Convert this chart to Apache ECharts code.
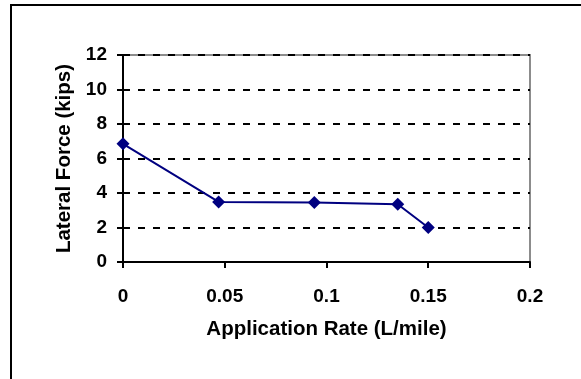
<!DOCTYPE html>
<html>
<head>
<meta charset="utf-8">
<script src="https://cdn.jsdelivr.net/npm/echarts@6/dist/echarts.min.js"></script>
<style>
  html, body { margin: 0; padding: 0; background: #fff; }
  #chart { width: 581px; height: 379px; }
</style>
</head>
<body>
<div id="chart"></div>
<script>
// application rate (L/mile) vs lateral force (kips)
const rates = [0, 0.047, 0.094, 0.135, 0.15]
const forces = [6.85, 3.48, 3.45, 3.35, 2.0]
const xTicks = [0, 0.05, 0.1, 0.15, 0.2]
const yTicks = [0, 2, 4, 6, 8, 10, 12]

const points = rates.map((r, i) => [r, forces[i]])
const font = '"Liberation Sans", Arial, sans-serif'

const myChart = echarts.init(document.getElementById('chart'), null, { renderer: 'canvas' })

const option = {
  backgroundColor: '#fff',
  animation: false,
  graphic: [
    {
      // outer chart frame, only left and top edges fall inside the picture
      type: 'rect',
      shape: { x: 11, y: 5, width: 640, height: 440 },
      style: { fill: 'none', stroke: '#000', lineWidth: 2 },
      silent: true
    }
  ],
  grid: {
    left: 123,
    top: 55,
    right: 51,
    bottom: 117,
    show: true,
    borderColor: '#8c8c8c',
    borderWidth: 2,
    backgroundColor: '#fff'
  },
  xAxis: {
    type: 'value',
    min: xTicks[0],
    max: xTicks[xTicks.length - 1],
    interval: 0.05,
    name: 'Application Rate (L/mile)',
    nameLocation: 'middle',
    nameGap: 57,
    nameTextStyle: { fontFamily: font, fontWeight: 'bold', fontSize: 20.5, color: '#000' },
    axisLine: { lineStyle: { color: '#000', width: 2 } },
    axisTick: { show: true, length: 6, lineStyle: { color: '#000', width: 2 } },
    axisLabel: {
      margin: 25,
      fontFamily: font,
      fontWeight: 'bold',
      fontSize: 19,
      color: '#000',
      formatter: v => String(+v.toFixed(2))
    },
    splitLine: { show: false }
  },
  yAxis: {
    type: 'value',
    min: yTicks[0],
    max: yTicks[yTicks.length - 1],
    interval: 2,
    name: 'Lateral Force (kips)',
    nameLocation: 'middle',
    nameGap: 46,
    nameTextStyle: { fontFamily: font, fontWeight: 'bold', fontSize: 20.5, color: '#000' },
    axisLine: { lineStyle: { color: '#000', width: 2 } },
    axisTick: { show: true, length: 6, lineStyle: { color: '#000', width: 2 } },
    axisLabel: {
      margin: 16,
      fontFamily: font,
      fontWeight: 'bold',
      fontSize: 19,
      color: '#000'
    },
    splitLine: {
      show: true,
      lineStyle: { color: '#000', width: 2, type: [7, 8] }
    }
  },
  series: [
    {
      type: 'line',
      data: points,
      symbol: 'diamond',
      symbolSize: 13,
      itemStyle: { color: '#000080' },
      lineStyle: { color: '#000080', width: 2 }
    }
  ]
}

myChart.setOption(option)
</script>
</body>
</html>
